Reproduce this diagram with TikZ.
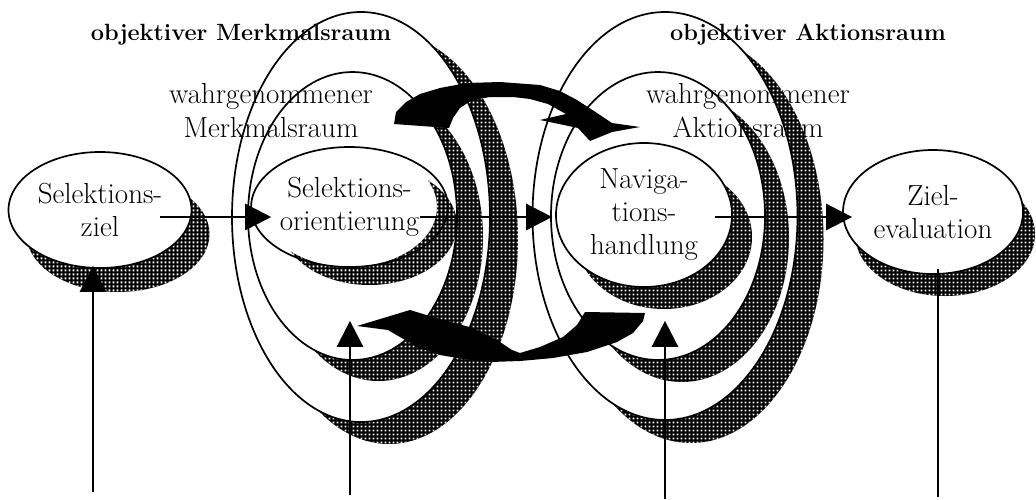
\documentclass[tikz,border=0pt]{standalone}
\usepackage{fontspec}
\usetikzlibrary{shapes.geometric,patterns,arrows.meta}
\pgfdeclarepatternformonly{holes}{\pgfpointorigin}{\pgfpoint{4pt}{4pt}}{\pgfpoint{4pt}{4pt}}{%
  \pgfpathrectangle{\pgfpoint{0.9pt}{0.9pt}}{\pgfpoint{2.2pt}{2.2pt}}%
  \pgfusepath{fill}}
\newcommand\ellshadow[6]{%
  \begin{scope}[even odd rule]
    \clip (-20,-20) rectangle (1060,520) (#1,#2) ellipse [x radius=#3, y radius=#4];
    \fill[black] ({#1+#5},{#2+#6}) ellipse [x radius=#3, y radius=#4];
    \fill[pattern=holes, pattern color=white] ({#1+#5},{#2+#6}) ellipse [x radius=#3, y radius=#4];
  \end{scope}}
\begin{document}
\begin{tikzpicture}[x=1pt,y=-1pt,
  lab/.style={font=\fontsize{29}{34}\selectfont, align=center},
  blab/.style={font=\bfseries\fontsize{23.5}{28}\selectfont, inner sep=0pt},
  ell/.style={draw, line width=1.7pt, ellipse, inner sep=0pt, font=\fontsize{29}{33}\selectfont, align=center},
  arr/.style={line width=2.6pt, -{Triangle[length=26pt,width=26pt]}},
  plain/.style={line width=2.6pt}]
\useasboundingbox (0,0) rectangle (1036,499);
% outside labels
\node[blab, anchor=base] (lom) at (241,40) {objektiver Merkmalsraum};
\node[blab, anchor=base] (loa) at (808,40) {objektiver Aktionsraum};
\node[lab] (lwm) at (271,111) {wahrgenommener\\Merkmalsraum};
\node[lab] (lwa) at (748,111) {wahrgenommener\\Aktionsraum};
% shadows
\ellshadow{100}{210}{91.5}{58}{18}{24}
\ellshadow{361}{217}{129}{205}{28}{22}
\ellshadow{352.5}{216}{104.5}{144}{26}{21}
\ellshadow{349.5}{207}{87.5}{60}{20}{18}
\ellshadow{665}{216}{132.5}{204}{26}{23}
\ellshadow{658}{216}{107}{144}{24}{22}
\ellshadow{644}{215}{88}{72}{20}{22}
\ellshadow{933}{212}{90}{62}{12}{22}
% ellipses
\node[ell, minimum width=183pt, minimum height=116pt] (sz) at (100,210) {Selektions-\\ziel};
\node[ell, minimum width=258pt, minimum height=410pt] (om) at (361,217) {};
\node[ell, minimum width=209pt, minimum height=288pt] (wm) at (352.5,216) {};
\node[ell, minimum width=175pt, minimum height=120pt] (so) at (349.5,207) {Selektions-\\orientierung};
\node[ell, minimum width=265pt, minimum height=408pt] (oa) at (665,216) {};
\node[ell, minimum width=214pt, minimum height=288pt] (wa) at (658,216) {};
\node[ell, minimum width=176pt, minimum height=144pt] (nh) at (644,215) {Naviga-\\tions-\\handlung};
\node[ell, minimum width=180pt, minimum height=124pt] (ze) at (933,212) {Ziel-\\evaluation};
% horizontal arrows
\draw[arr] ([shift={(60,7)}]sz.center) -- ([shift={(21,10)}]so.west);
\draw[arr] ([shift={(70,10)}]so.center) -- ([shift={(-3,2)}]nh.west);
\draw[arr] ([shift={(71,2)}]nh.center) -- ([shift={(10,5)}]ze.west);
% vertical arrows
\coordinate (b1) at (93,492);
\coordinate (b2) at (350,495);
\coordinate (b3) at (665,499);
\coordinate (b4) at (938,497);
\draw[arr] (b1) -- ([shift={(-7,-3)}]sz.south);
\draw[arr] (b2) -- ([shift={(-2.5,-40)}]wm.south);
\draw[arr] (b3) -- ([shift={(7,-40)}]wa.south);
\draw[plain] ([shift={(5,-6)}]ze.south) -- (b4);
% curved black arrows
\fill (396,112) -- (406,102) -- (420,94) -- (440,88) -- (467,83) -- (500,82) -- (540,85) -- (560,91) -- (577,100) -- (597,113) -- (612,123) -- (640,127) -- (612,132) -- (590,141) -- (578,128) -- (540,120) -- (566,114) -- (548,104) -- (530,99) -- (513,97) -- (490,97) -- (472,100) -- (460,108) -- (453,118) -- (449,128) -- (394,124) -- cycle;
\fill (585,312) -- (645,313) -- (643,321) -- (633,333) -- (617,342) -- (587,352) -- (553,358) -- (520,361) -- (490,362) -- (463,359) -- (440,355) -- (417,347) -- (400,337) -- (388,330) -- (357,326) -- (410,310) -- (433,317) -- (473,328) -- (497,340) -- (512,350) -- (520,353) -- (540,347) -- (563,337) -- (577,325) -- cycle;
\end{tikzpicture}
\end{document}
